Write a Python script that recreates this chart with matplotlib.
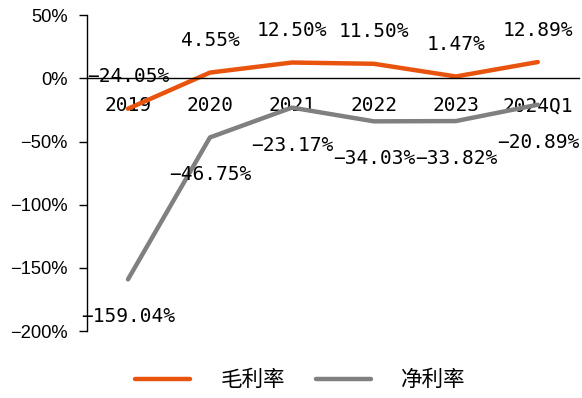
import matplotlib
matplotlib.use('Agg')
from matplotlib import pyplot as plt
from matplotlib.ticker import FuncFormatter

years = ['2019', '2020', '2021', '2022', '2023', '2024Q1']
gross_margin = [-24.05, 4.55, 12.50, 11.50, 1.47, 12.89]
net_margin = [-159.04, -46.75, -23.17, -34.03, -33.82, -20.89]

cjk = ['Noto Sans CJK SC', 'DejaVu Sans']
mono = 'DejaVu Sans Mono'
orange = '#E8540E'
grey = '#808080'


def pct(v, decimals):
    s = f'{abs(v):.{decimals}f}%'
    return ('\u2212' + s) if v < 0 else s


fig = plt.figure(figsize=(5.82, 3.98), dpi=100)
ax = fig.add_axes([0.1495, 0.168, 0.845, 0.794])

x = list(range(len(years)))
ax.plot(x, gross_margin, color=orange, lw=3.2, label='毛利率', solid_capstyle='round')
ax.plot(x, net_margin, color=grey, lw=3.2, label='净利率', solid_capstyle='round')

# value labels: gross above the line, net below
for i, v in enumerate(gross_margin):
    ax.annotate(pct(v, 2), (i, v), xytext=(0, 23), textcoords='offset points',
                ha='center', va='center', fontsize=14, family=mono)
for i, v in enumerate(net_margin):
    ax.annotate(pct(v, 2), (i, v), xytext=(0, -27), textcoords='offset points',
                ha='center', va='center', fontsize=14, family=mono)

ax.set_xlim(-0.5, 5.5)
ax.set_ylim(-200, 50)
ax.set_yticks(range(-200, 51, 50))
ax.yaxis.set_major_formatter(FuncFormatter(lambda v, p: pct(v, 0)))
ax.tick_params(axis='y', length=6, width=1, pad=8, labelsize=13.2,
               labelfontfamily='Liberation Sans')

ax.set_xticks(x)
ax.set_xticklabels(years)
ax.tick_params(axis='x', length=0, pad=13, labelsize=14, labelfontfamily=mono)

# category axis sits on the zero line
ax.spines['bottom'].set_position(('data', 0))
ax.spines['bottom'].set_linewidth(1)
ax.spines['left'].set_linewidth(1)
ax.spines['top'].set_visible(False)
ax.spines['right'].set_visible(False)

fig.legend(loc='center', bbox_to_anchor=(0.516, 0.045), ncol=2, frameon=False,
           prop={'family': cjk, 'size': 15.5}, handlelength=2.56,
           handletextpad=1.4, columnspacing=1.45)

fig.savefig('out.png', dpi=100)
